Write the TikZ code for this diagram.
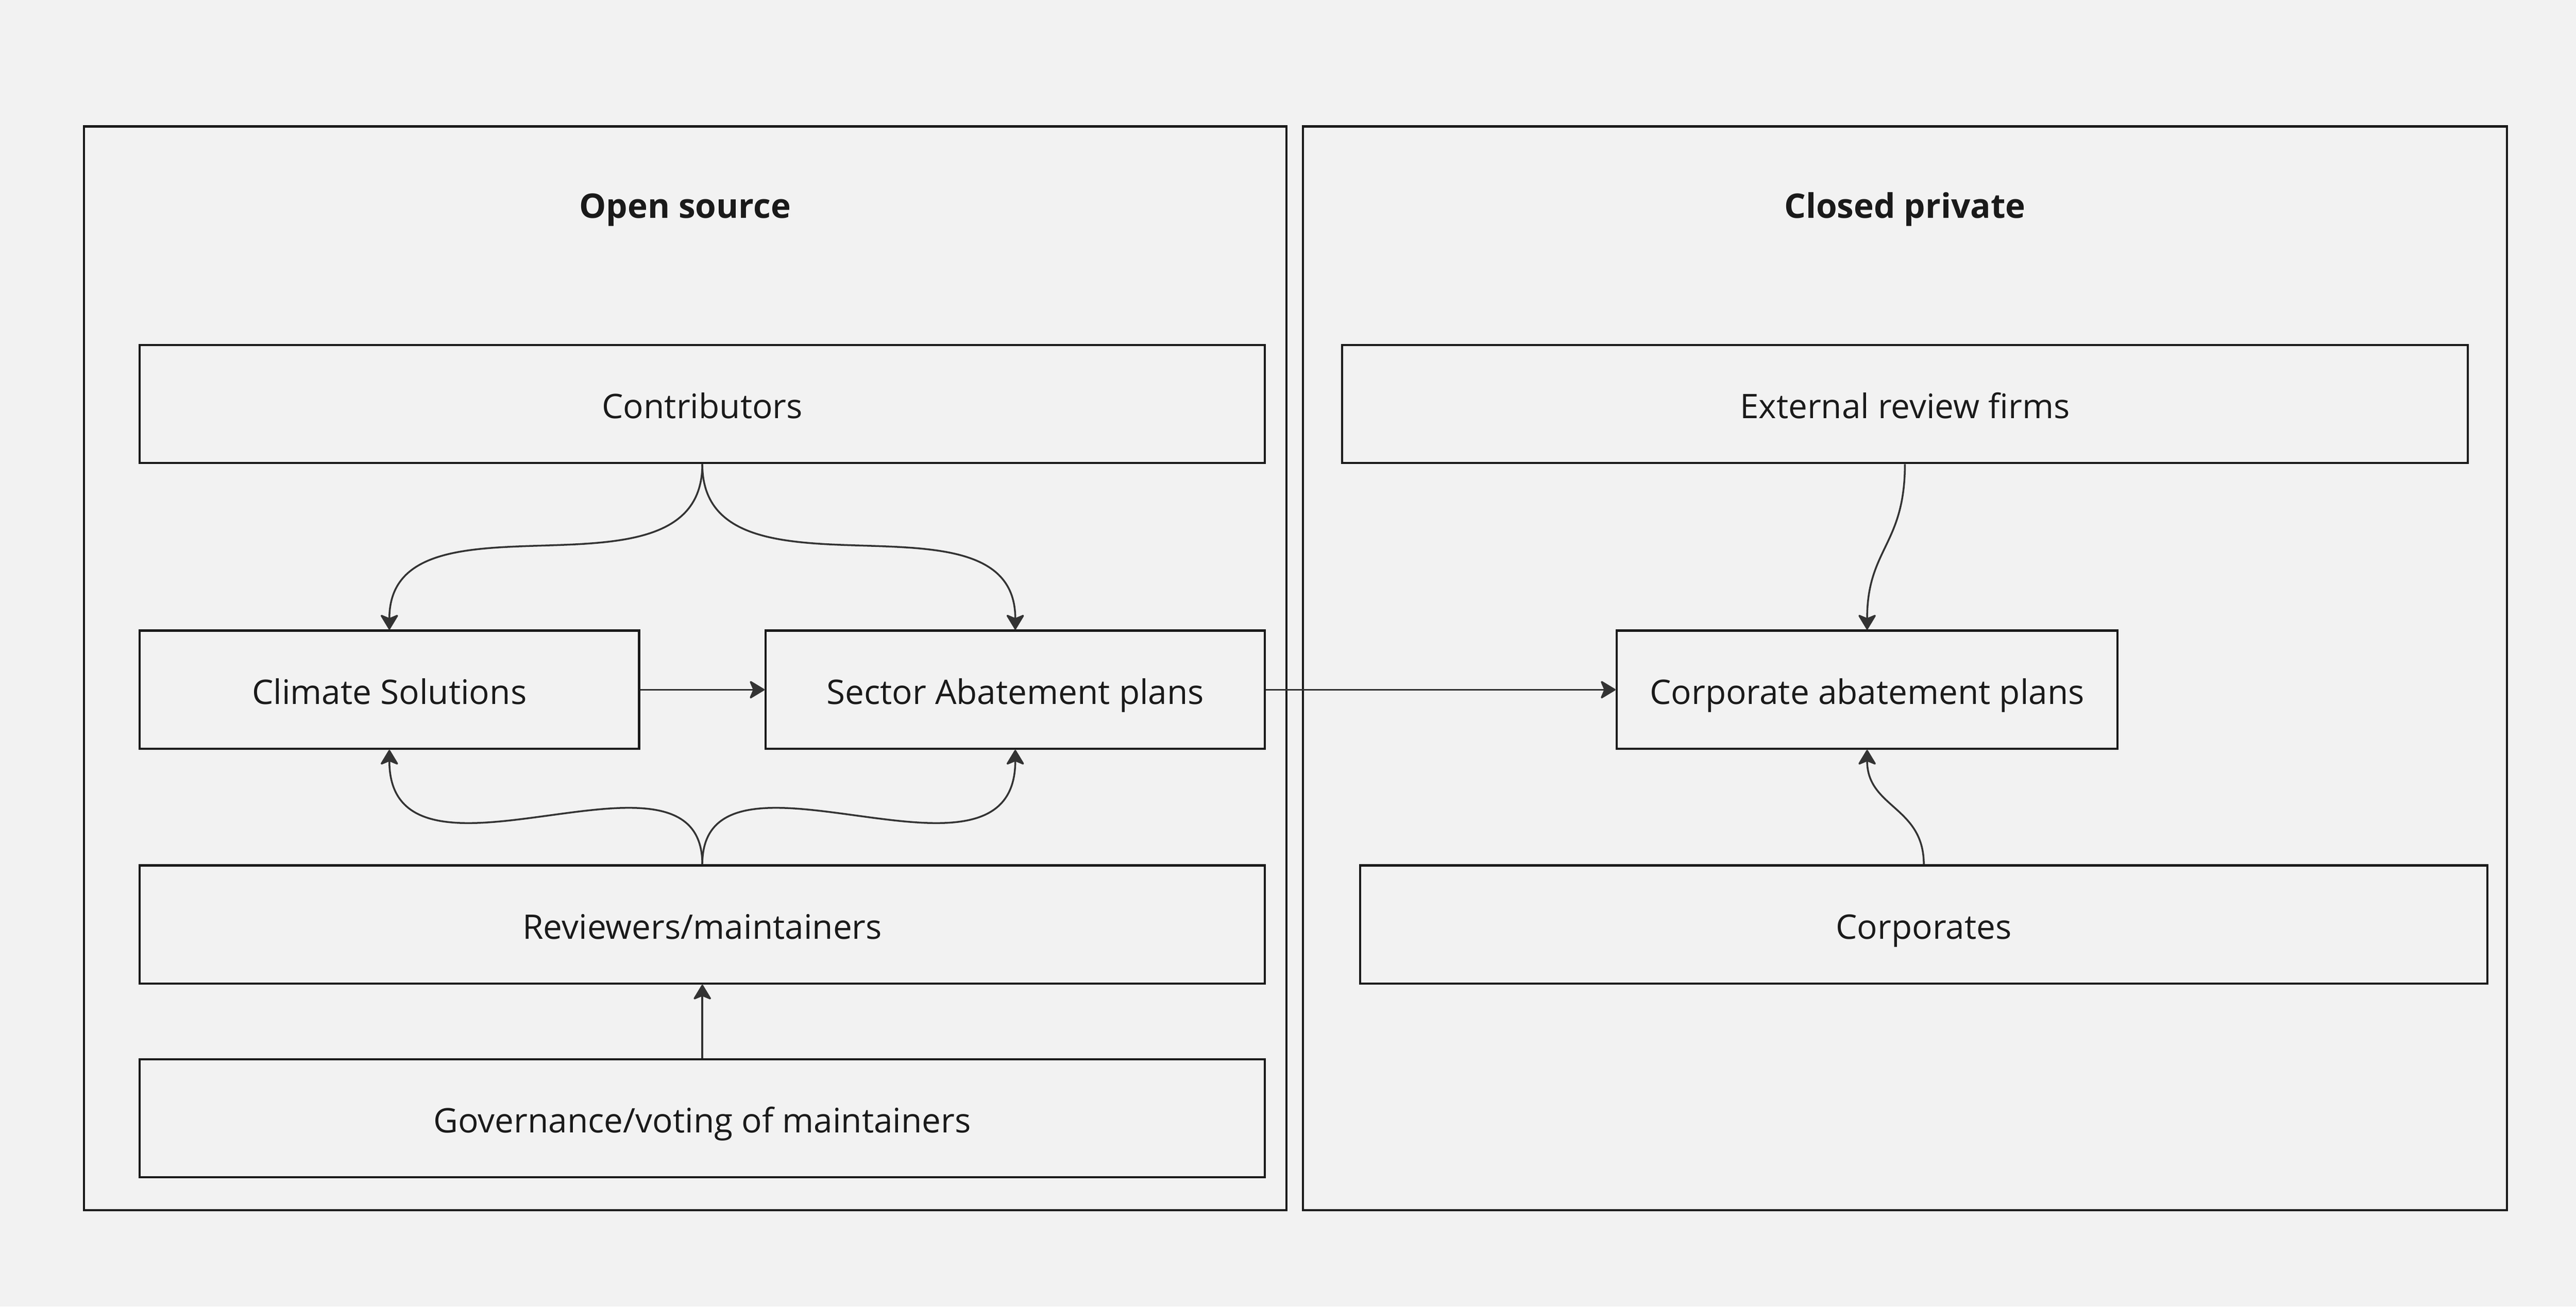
\documentclass[tikz,border=0pt]{standalone}
\usepackage{fontspec}
\setmainfont{Open Sans}
\usetikzlibrary{arrows.meta}
\definecolor{bg}{HTML}{F2F2F2}
\definecolor{ink}{HTML}{1A1A1A}
\definecolor{wire}{HTML}{333333}
\begin{document}
\begin{tikzpicture}[x=1pt,y=-1pt,
  box/.style={draw=ink, line width=1.3pt, minimum height=72pt, inner sep=0pt,
    text height=17.5pt, text depth=0pt, text=ink, font=\fontsize{20.6}{24}\selectfont},
  frame/.style={draw=ink, line width=1.3pt, inner sep=0pt, minimum height=660pt},
  title/.style={text=ink, inner sep=0pt, text height=17.5pt, text depth=0pt, font=\bfseries\fontsize{20.6}{24}\selectfont},
  conn/.style={draw=wire, line width=1.1pt, -{Stealth[length=10pt,width=12pt,inset=2.5pt,round]}}]
\fill[bg] (0,0) rectangle (1568,795.6);
\useasboundingbox (0,0) rectangle (1568,795.6);
% frames
\node[frame, minimum width=732pt] (openframe) at (417,407) {};
\node[frame, minimum width=733pt] (closedframe) at (1159.5,407) {};
\node[title] (opentitle) at (417,124) {Open source};
\node[title] (closedtitle) at (1159.5,124) {Closed private};
% open source boxes
\node[box, minimum width=685pt] (contrib) at (427.5,246) {Contributors};
\node[box, minimum width=304pt] (climate) at (237,420) {Climate Solutions};
\node[box, minimum width=304pt] (sector) at (618,420) {Sector Abatement plans};
\node[box, minimum width=685pt] (review) at (427.5,563) {Reviewers/maintainers};
\node[box, minimum width=685pt] (govern) at (427.5,681) {Governance/voting of maintainers};
% closed private boxes
\node[box, minimum width=685pt] (external) at (1159.5,246) {External review firms};
\node[box, minimum width=305pt] (corpplans) at (1136.5,420) {Corporate abatement plans};
\node[box, minimum width=686pt] (corporates) at (1171,563) {Corporates};
% connectors
\draw[conn] (contrib.south) .. controls (427.5,374) and (237,292) .. (climate.north);
\draw[conn] (contrib.south) .. controls (427.5,374) and (618,292) .. (sector.north);
\draw[conn] (climate.east) -- (sector.west);
\draw[conn] (review.north) .. controls (427.5,440) and (237,555) .. (climate.south);
\draw[conn] (review.north) .. controls (427.5,440) and (618,555) .. (sector.south);
\draw[conn] (govern.north) -- (review.south);
\draw[conn] (sector.east) -- (corpplans.west);
\draw[conn] (external.south) .. controls (1159.5,332) and (1136.5,334) .. (corpplans.north);
\draw[conn] (corporates.north) .. controls (1171,491) and (1136.5,492) .. (corpplans.south);
\end{tikzpicture}
\end{document}
